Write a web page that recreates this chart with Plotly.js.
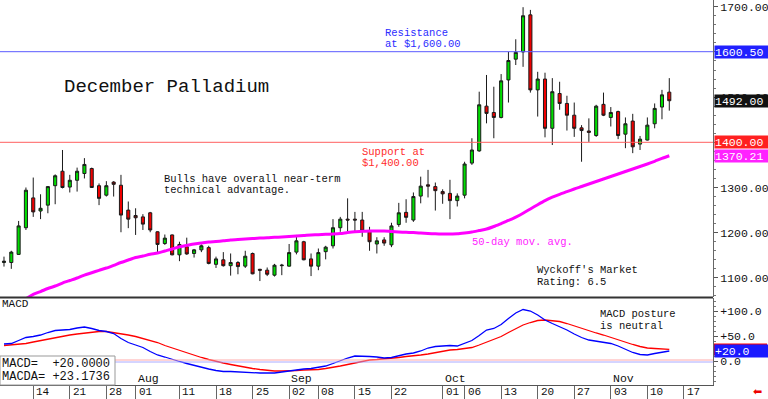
<!DOCTYPE html>
<html><head><meta charset="utf-8">
<script src="https://cdn.plot.ly/plotly-3.0.1.min.js"></script>
<style>html,body{margin:0;padding:0;background:#fff;} #chart{width:768px;height:399px;}</style>
</head><body><div id="chart"></div>
<script>
// ---------- data ----------
const dates = [
'2025-07-08','2025-07-09','2025-07-10','2025-07-11','2025-07-14','2025-07-15','2025-07-16','2025-07-17','2025-07-18',
'2025-07-21','2025-07-22','2025-07-23','2025-07-24','2025-07-25','2025-07-28','2025-07-29','2025-07-30','2025-07-31',
'2025-08-01','2025-08-04','2025-08-05','2025-08-06','2025-08-07','2025-08-08','2025-08-11','2025-08-12','2025-08-13',
'2025-08-14','2025-08-15','2025-08-18','2025-08-19','2025-08-20','2025-08-21','2025-08-22','2025-08-25','2025-08-26',
'2025-08-27','2025-08-28','2025-08-29',
'2025-09-02','2025-09-03','2025-09-04','2025-09-05','2025-09-08','2025-09-09','2025-09-10','2025-09-11','2025-09-12',
'2025-09-15','2025-09-16','2025-09-17','2025-09-18','2025-09-19','2025-09-22','2025-09-23','2025-09-24','2025-09-25',
'2025-09-26','2025-09-29','2025-09-30',
'2025-10-01','2025-10-02','2025-10-03','2025-10-06','2025-10-07','2025-10-08','2025-10-09','2025-10-10','2025-10-13',
'2025-10-14','2025-10-15','2025-10-16','2025-10-17','2025-10-20','2025-10-21','2025-10-22','2025-10-23','2025-10-24',
'2025-10-27','2025-10-28','2025-10-29','2025-10-30','2025-10-31',
'2025-11-03','2025-11-04','2025-11-05','2025-11-06','2025-11-07','2025-11-10','2025-11-11','2025-11-12','2025-11-13'];

const open = [1134,1134,1152,1211,1277,1248,1261,1304,1336,1301,1316,1331,1342,1304,1283,1312,1305,1250,
1238,1235,1244,1202,1176,1195,1151,1169,1154,1162,1167,1130,1140,1127,1134,1126,1154,1119,1117,1106,1127,
1126,1157,1180,1142,1126,1158,1171,1211,1230,1230,1228,1204,1175,1184,1173,1218,1245,1228,1281,1306,1302,
1291,1287,1271,1283,1354,1381,1480,1466,1455,1538,1584,1600,1682,1516,1540,1431,1508,1486,1460,1432,1425,1415,1484,
1455,1468,1418,1447,1396,1405,1441,1478,1511];
const high = [1147,1160,1226,1300,1322,1285,1303,1329,1383,1328,1344,1365,1344,1309,1314,1314,1328,1269,
1254,1241,1246,1203,1196,1196,1180,1189,1164,1174,1171,1147,1157,1154,1137,1160,1156,1120,1123,1131,1131,
1175,1195,1182,1154,1165,1171,1230,1235,1276,1246,1246,1213,1190,1190,1222,1266,1274,1289,1324,1339,1311,
1296,1317,1287,1357,1409,1512,1549,1523,1551,1600,1628,1699,1693,1556,1554,1542,1534,1503,1488,1438,1453,1483,1510,
1478,1470,1455,1463,1414,1455,1486,1516,1542];
const low = [1125,1120,1151,1206,1235,1230,1243,1263,1298,1289,1291,1320,1299,1261,1280,1280,1201,1210,
1195,1206,1201,1157,1173,1150,1137,1151,1145,1157,1130,1122,1125,1105,1108,1122,1108,1093,1104,1103,1106,
1125,1152,1139,1104,1117,1141,1165,1202,1202,1202,1191,1160,1154,1171,1168,1213,1222,1224,1265,1278,1249,
1264,1230,1258,1276,1350,1379,1442,1409,1453,1488,1571,1567,1510,1457,1411,1394,1472,1426,1412,1357,1401,1412,1458,
1435,1407,1387,1376,1383,1404,1431,1451,1470];
const close = [1137,1157,1215,1294,1246,1254,1302,1326,1300,1316,1336,1351,1300,1276,1304,1307,1239,1230,
1233,1219,1206,1174,1188,1151,1174,1153,1162,1171,1132,1142,1127,1134,1125,1148,1109,1117,1108,1128,1128,
1156,1182,1140,1126,1156,1168,1211,1230,1228,1228,1204,1180,1182,1177,1215,1244,1234,1280,1303,1303,1293,
1286,1271,1281,1352,1383,1483,1464,1455,1536,1581,1599,1680,1516,1540,1431,1512,1486,1460,1431,1426,1422,1480,1460,
1466,1415,1441,1390,1407,1438,1475,1505,1492];

const ma50 = [1038,1044,1050,1054,1063.6,1069.8,1076.5,1082,1088.6,1094.2,1099.7,1106.3,1111.4,1116.7,1121.8,1127.8,1134,1139.5,
1145,1148.4,1152.1,1155,1159.5,1163.9,1169,1172,1175,1177.2,1179.4,1180.5,1182,1183.8,1185,1186,1187.1,1188.2,1188.7,1189.8,1190.4,
1191.5,1192.6,1193.7,1194.9,1195.5,1196.4,1197.1,1198.2,1200.4,1202.2,1203.1,1203.8,1203.8,1203.8,1202.6,1201.5,1200.8,1200.4,1199.3,1198.2,1197.5,
1197.1,1197.1,1197.5,1199.3,1201.5,1204.8,1208.1,1213.7,1220.3,1227,1234.5,1243,1252.5,1262,1271,1278.5,1284.9,1290.7,1296.7,1302.2,1307.7,1313.2,1318.8,
1324.3,1329.8,1335.4,1340.9,1346.4,1352,1358,1364.4,1370.21];

const macd = [34,35,41,47,49,52,57,61,62,63,66,68,65,61,59,55,45,37,
32,27,19,12,8,3,-1,-5,-9,-12,-16,-19,-21,-21,-22,-23,-24,-24,-24,-24,-22,
-20,-17,-16,-15,-13,-10,-5,1,6,10,10,9,8,6,7,11,14,16,20,26,29,
30,31,30,35,41,51,62,65,73,85,96,103,100,92,82,75,69,62,54,47,42,40,37,
35,30,24,17,13,12,15,18,20];
const macda = [31,32,34,35,38,41,44,46,49,52,54,56,58,59,59,57,55,52,
49,45,41,37,31,26,21,16,11,7,3,-1,-4,-7,-10,-12,-15,-17,-19,-20,-20,
-20,-19,-18,-18,-17,-15,-13,-10,-7,-4,-1,2,3,4,6,7,9,10,12,14,17,
20,22,23,25,27,32,38,43,49,57,65,72,77,81,82,81,79,75,70,65,60,56,52,
47,42,37,33,29,26,25,24,23.1736];

const tickDates = ['2025-07-14','2025-07-21','2025-07-28','2025-08-01','2025-08-11','2025-08-18','2025-08-25',
'2025-09-02','2025-09-08','2025-09-15','2025-09-22','2025-10-01','2025-10-06','2025-10-13','2025-10-20','2025-10-27',
'2025-11-03','2025-11-10','2025-11-17'];
const tickLabels = ['14','21','28','01','11','18','25','02','08','15','22','01','06','13','20','27','03','10','17'];
const monthDates = ['2025-08-01','2025-09-02','2025-10-01','2025-11-03'];
const monthLabels = ['Aug','Sep','Oct','Nov'];
const priceTicks = [1100, 1200, 1300, 1500, 1700];   // 1400 and 1600 sit under the level boxes
const macdTicks = [0, 50, 100];
const macdTickLabels = ['0.0', '+50.0', '+100.0'];

const resistance = 1600.5;
const support = 1400;
const lastClose = 1492;
const lastMA = 1370.21;
const lastMACD = 20.0;
const lastMACDA = 23.1736;

// ---------- drawing ----------
const noon = d => d + ' 12:00';
const X = dates.map(noon);
const FONT = '"Liberation Mono", "DejaVu Sans Mono", monospace';
const PW = 713, PH = 385;
const px = v => v / PW;
const py = v => 1 - v / PH;

const traces = [
  {type:'candlestick', x:X, open:open, high:high, low:low, close:close, xaxis:'x', yaxis:'y',
   increasing:{fillcolor:'#00dd00', line:{color:'#1a1a1a', width:1}},
   decreasing:{fillcolor:'#ee0000', line:{color:'#1a1a1a', width:1}},
   whiskerwidth:0, showlegend:false, hoverinfo:'skip'},
  {type:'scatter', mode:'lines', x:X, y:ma50, xaxis:'x', yaxis:'y',
   line:{color:'#ff00ff', width:3, shape:'spline', smoothing:0.6}, showlegend:false, hoverinfo:'skip'},
  {type:'scatter', mode:'lines', x:X, y:macda, xaxis:'x', yaxis:'y2',
   line:{color:'#ff0000', width:1.3}, showlegend:false, hoverinfo:'skip'},
  {type:'scatter', mode:'lines', x:X, y:macd, xaxis:'x', yaxis:'y2',
   line:{color:'#0000ff', width:1.3}, showlegend:false, hoverinfo:'skip'}
];

function txt(x, y, text, color, size, extra) {
  return Object.assign({xref:'paper', yref:'paper', x:x, y:y, xanchor:'left', yanchor:'middle',
    text:text, showarrow:false, font:{family:FONT, size:size||10.5, color:color||'#111'}}, extra||{});
}
function box(yref, y, text, bg) {
  return {xref:'paper', x:1, xanchor:'left', xshift:1, yref:yref, y:y, yanchor:'middle',
    text:text, showarrow:false, bgcolor:bg, borderpad:0, width:53, height:12, align:'left',
    font:{family:FONT, size:11.5, color:'#ffffff'}};
}

const annotations = [
  txt(px(62), py(87), 'December Palladium', '#111', 19),
  txt(px(383), py(33), 'Resistance', '#2b2bff'),
  txt(px(383), py(44), 'at $1,600.00', '#2b2bff'),
  txt(px(360), py(152), 'Support at', '#ff2b2b'),
  txt(px(360), py(163), '$1,400.00', '#ff2b2b'),
  txt(px(162), py(179), 'Bulls have overall near-term'),
  txt(px(162), py(190), 'technical advantage.'),
  txt(px(470), py(242), '50-day mov. avg.', '#ff22ff'),
  txt(px(535), py(270), "Wyckoff's Market"),
  txt(px(535), py(282), 'Rating: 6.5'),
  txt(px(0), py(304), 'MACD', '#111', 11),
  txt(px(598), py(314), 'MACD posture'),
  txt(px(598), py(326), 'is neutral'),
  txt(px(0), py(364), 'MACD=\u00a0\u00a0' + '+' + lastMACD.toFixed(4), '#111', 12),
  txt(px(0), py(377), 'MACDA=\u00a0' + '+' + lastMACDA.toFixed(4), '#111', 12),
  box('y', resistance, resistance.toFixed(2), '#2020ff'),
  box('y', lastClose, lastClose.toFixed(2), '#111111'),
  box('y', support, support.toFixed(2), '#ff2020'),
  box('y', lastMA, lastMA.toFixed(2), '#ff22ff'),
  box('y2', lastMACD, '+' + lastMACD.toFixed(1), '#1a1aff'),
  txt(px(757), py(392), '\u2b05', '#ee0000', 11, {xanchor:'center', font:{family:'DejaVu Sans', size:11, color:'#ee0000'}})
];
monthDates.forEach((d, i) => annotations.push({xref:'x', x:noon(d), xanchor:'left', xshift:0,
  yref:'paper', y:py(378), yanchor:'middle', text:monthLabels[i], showarrow:false,
  font:{family:FONT, size:11.5, color:'#111'}}));
tickDates.forEach((d, i) => annotations.push({xref:'x', x:noon(d), xanchor:'left', xshift:1,
  yref:'paper', y:py(392), yanchor:'middle', text:tickLabels[i], showarrow:false,
  font:{family:FONT, size:11, color:'#111'}}));

const shapes = [
  {type:'line', xref:'paper', x0:0, x1:1, yref:'y', y0:resistance, y1:resistance, line:{color:'#5a5aff', width:1}},
  {type:'line', xref:'paper', x0:0, x1:1, yref:'y', y0:support, y1:support, line:{color:'#ff6060', width:1}},
  {type:'line', xref:'paper', x0:0, x1:1, yref:'y2', y0:2, y1:2, line:{color:'#ffaaaa', width:1}},
  {type:'line', xref:'paper', x0:0, x1:1, yref:'y2', y0:-2, y1:-2, line:{color:'#aaaaff', width:1}},
  {type:'rect', xref:'paper', x0:0, x1:px(115), yref:'paper', y0:0, y1:py(356), fillcolor:'#ffffff',
   line:{color:'#999999', width:1}, layer:'above'},
  {type:'line', xref:'paper', x0:0, x1:1, yref:'paper', y0:py(297.5), y1:py(297.5), line:{color:'#333333', width:2}, layer:'above'},
  // MACDA level marker peeking above the MACD box on the right axis
  {type:'rect', xref:'paper', x0:1 + 1/PW, x1:1 + 54/PW, yref:'y2', y0:lastMACDA - 12, y1:lastMACDA + 12,
   fillcolor:'#ff0000', line:{width:0}, layer:'above'}
];

const layout = {
  width:768, height:399, margin:{l:0, r:55, t:0, b:14},
  paper_bgcolor:'#ffffff', plot_bgcolor:'#ffffff', showlegend:false, boxgap:0.4,
  font:{family:FONT, size:11, color:'#111'},
  xaxis:{type:'date', anchor:'y2', range:['2025-07-07 22:53','2025-11-21 11:30'],
    rangebreaks:[{bounds:['sat','mon']}, {values:['2025-09-01']}],
    rangeslider:{visible:false}, showgrid:false, zeroline:false,
    showline:true, linecolor:'#555', linewidth:1,
    ticks:'outside', ticklen:14, tickcolor:'#666', tickwidth:1,
    tickmode:'array', tickvals:tickDates.map(noon), showticklabels:false, fixedrange:true},
  yaxis:{domain:[py(297), 1], side:'right', anchor:'x', range:[1057.7, 1714.9],
    tickmode:'array', tickvals:priceTicks, tickformat:'.2f',
    ticks:'outside', ticklen:4, tickcolor:'#555', showline:true, linecolor:'#666', linewidth:1,
    showgrid:false, zeroline:false, tickfont:{family:FONT, size:11.5, color:'#111'},
    minor:{tick0:1100, dtick:20, ticklen:2, tickcolor:'#777', ticks:'outside', showgrid:false}},
  yaxis2:{domain:[0, py(298)], side:'right', anchor:'x', range:[-48, 126],
    tickmode:'array', tickvals:macdTicks, ticktext:macdTickLabels,
    ticks:'outside', ticklen:4, tickcolor:'#555', showline:true, linecolor:'#666', linewidth:1,
    showgrid:false, zeroline:false, tickfont:{family:FONT, size:11.5, color:'#111'},
    minor:{tick0:0, dtick:10, ticklen:2, tickcolor:'#777', ticks:'outside', showgrid:false}},
  annotations:annotations,
  shapes:shapes
};

Plotly.newPlot('chart', traces, layout, {staticPlot:true, displayModeBar:false});
</script>
</body></html>
